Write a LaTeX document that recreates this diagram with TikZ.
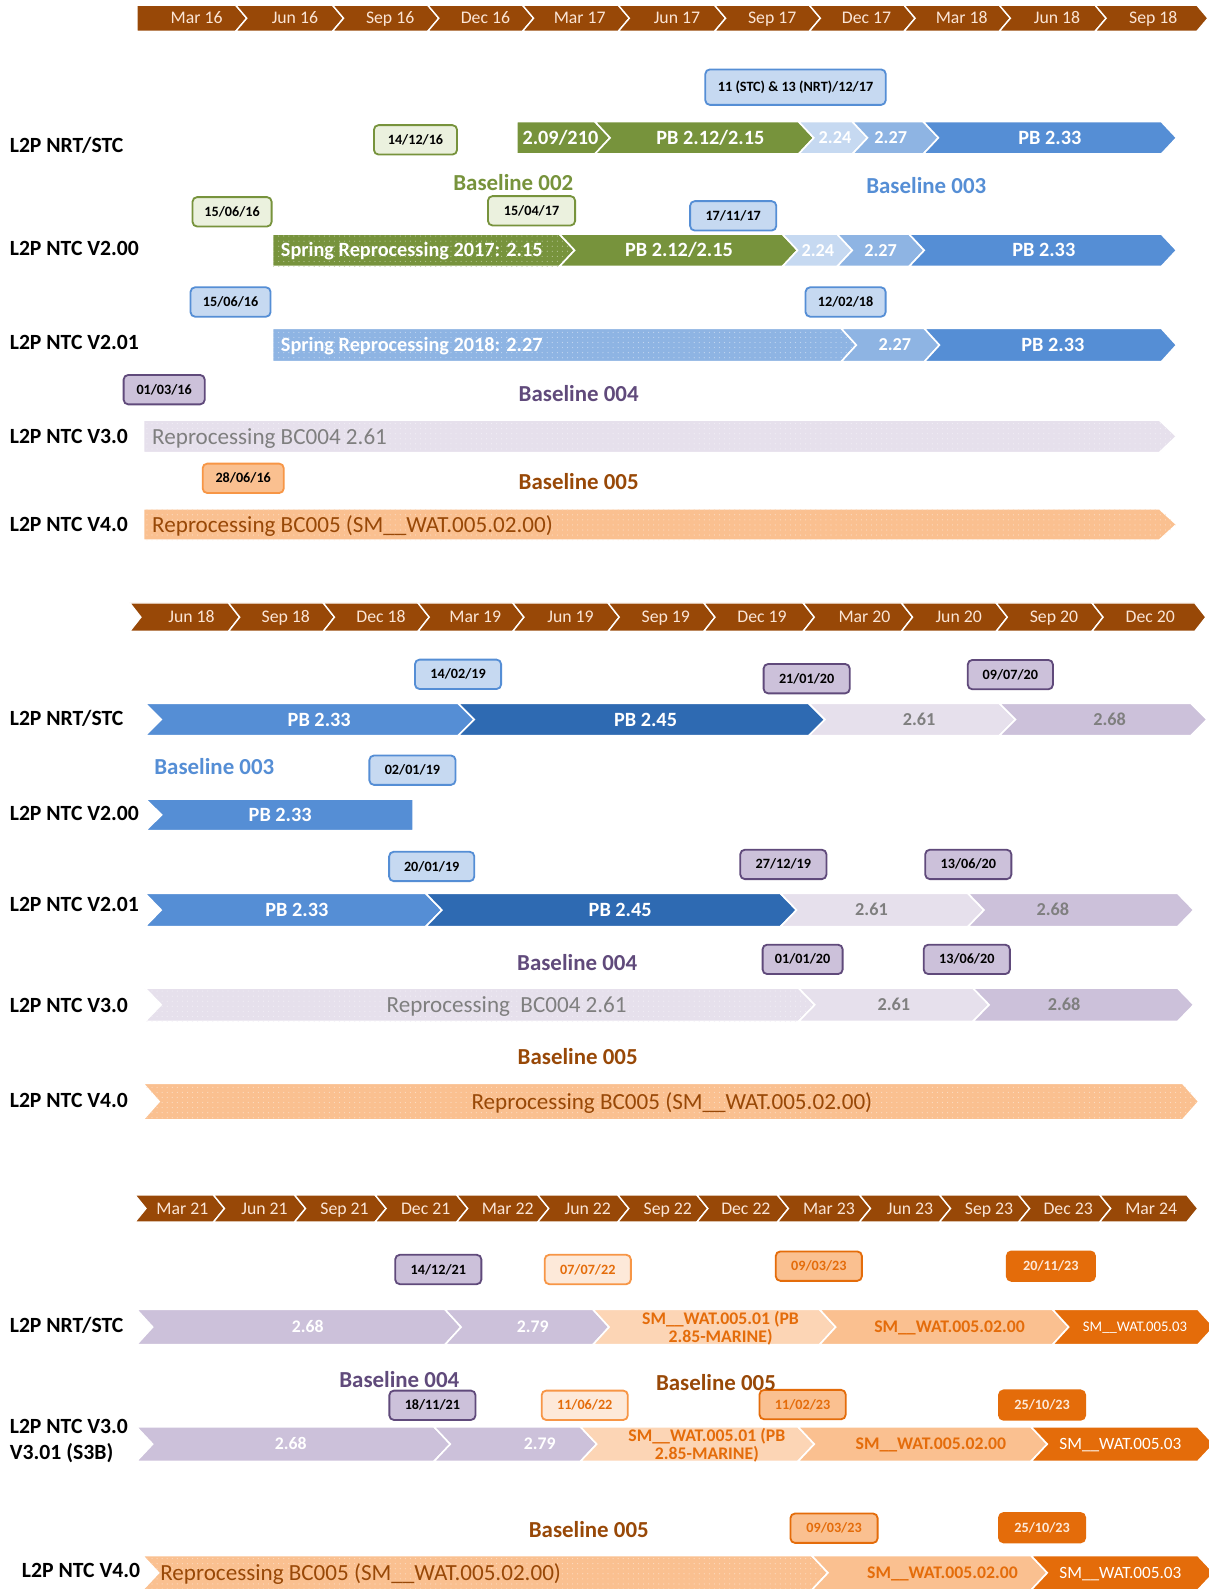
\documentclass[tikz,border=0pt]{standalone}
\usepackage{fontspec}
\setmainfont{Carlito}
\usetikzlibrary{patterns.meta}
\definecolor{tlbrown}{HTML}{984807}
\definecolor{tlcream}{HTML}{FBE5D6}
\definecolor{gdark}{HTML}{77933C}
\definecolor{glight}{HTML}{EBF1DE}
\definecolor{bmid}{HTML}{558ED5}
\definecolor{bsoft}{HTML}{8EB4E3}
\definecolor{blight}{HTML}{C6D9F1}
\definecolor{bdark}{HTML}{2E6AB2}
\definecolor{pdark}{HTML}{604A7B}
\definecolor{pmid}{HTML}{CCC1DA}
\definecolor{plight}{HTML}{E6E0EC}
\definecolor{omid}{HTML}{FAC090}
\definecolor{olight}{HTML}{FCD5B5}
\definecolor{opale}{HTML}{FDE9D9}
\definecolor{odark}{HTML}{E46C0A}
\definecolor{oborder}{HTML}{F79646}
\definecolor{obrown}{HTML}{984807}
\definecolor{gtext}{HTML}{7F7F7F}
% #1 style, #2 xL, #3 xR, #4 ytop, #5 ybot, #6 notch depth, #7 tip depth
\newcommand\chev[7]{\path[#1] (#2,#4) -- (#3,#4) -- ({#3+#7},{(#4+#5)/2}) -- (#3,#5) -- (#2,#5) -- ({#2+#6},{(#4+#5)/2}) -- cycle;}
\tikzset{
 txt/.style={inner sep=0pt, text height=#1, text depth=0pt},
 tlseg/.style={fill=tlbrown, draw=white, line width=1.4pt},
 tllab/.style={txt=11.3pt, text=tlcream, font=\fontsize{17.5}{20}\selectfont},
 rowlab/.style={txt=13.8pt, anchor=west, font=\bfseries\fontsize{21.4}{24}\selectfont},
 basel/.style={txt=14.6pt, font=\bfseries\fontsize{22.6}{26}\selectfont},
 dbox/.style={rounded corners=4.5pt, line width=1.8pt, minimum height=29pt, text height=9pt, text depth=0pt, inner sep=0pt, font=\bfseries\fontsize{14}{16}\selectfont},
 dgreen/.style={dbox, fill=glight, draw=gdark},
 dblue/.style={dbox, fill=blight, draw=bmid},
 dpurple/.style={dbox, fill=pmid, draw=pdark},
 dorange/.style={dbox, fill=omid, draw=oborder},
 dopale/.style={dbox, fill=opale, draw=oborder, text=odark},
 domid/.style={dbox, fill=omid, draw=odark, text=odark},
 dodark/.style={dbox, fill=odark, draw=odark, text=opale},
 sg/.style={fill=#1, draw=white, line width=1.6pt},
 sgd/.style={fill=#1, draw=white, line width=1.6pt, postaction={pattern={Dots[distance=5pt,radius=0.6pt]}, pattern color=white!45!#1}},
 wb/.style={txt=12.9pt, text=white, font=\bfseries\fontsize{20}{24}\selectfont},
 ws/.style={txt=11.6pt, text=white, font=\bfseries\fontsize{18}{22}\selectfont},
 wsm/.style={txt=11.3pt, text=white, font=\bfseries\fontsize{17.5}{20}\selectfont},
 gb/.style={txt=11.6pt, text=gtext, font=\bfseries\fontsize{18}{22}\selectfont},
 reg/.style={txt=14.7pt, font=\fontsize{22.8}{26}\selectfont},
 ob/.style={txt=11.3pt, text=odark, font=\bfseries\fontsize{17.5}{19}\selectfont},
 ob2/.style={inner sep=0pt, align=center, text=odark, font=\bfseries\fontsize{17.5}{18}\selectfont},
 wr/.style={txt=10.95pt, text=white, font=\fontsize{17}{20}\selectfont},
 wrs/.style={txt=9.3pt, text=white, font=\fontsize{14.5}{17}\selectfont},
}
\begin{document}
\begin{tikzpicture}[x=1pt,y=-1pt]
\useasboundingbox (0,0) rectangle (1193,1568);
\fill[white] (0,0) rectangle (1193,1568);
\clip (0,0) rectangle (1193,1568);

%================ SECTION 1 =================
\foreach \nn/\xl/\xr/\lx/\lab [count=\i] in {0/135/232.5/194/Mar 16, 11/232.5/328/291/Jun 16, 11/328/422/385/Sep 16, 11/422/515.5/479/Dec 16, 11/515.5/610/572/Mar 17, 11/610/705/668/Jun 17, 11/705/798.5/762/Sep 17, 11/798.5/892/855/Dec 17, 11/892/986/949/Mar 18, 11/986/1080.5/1043/Jun 18, 11/1080.5/1181/1138/Sep 18}{
  \chev{tlseg}{\xl}{\xr}{5}{31}{\nn}{11}
  \node[tllab] (tA\i) at (\lx,18) {\lab};
}

\node[rowlab] (r1a) at (9.5,144) {L2P NRT/STC};
\node[rowlab] (r1b) at (9.5,245) {L2P NTC V2.00};
\node[rowlab] (r1c) at (9.5,338) {L2P NTC V2.01};
\node[rowlab] (r1d) at (9.5,431) {L2P NTC V3.0};
\node[rowlab] (r1e) at (9.5,518) {L2P NTC V4.0};

% NRT/STC
\chev{sg=gdark}{510}{587}{120}{152}{0}{15}
\chev{sg=gdark}{587}{788}{120}{152}{15}{15}
\chev{sg=blight}{788}{841}{120}{152}{15}{15}
\chev{sg=bsoft}{841}{911}{120}{152}{15}{15}
\chev{sg=bmid}{911}{1146}{120}{152}{15}{15}
\node[wb] (s1a) at (553,136) {2.09/210};
\node[wb] (s1b) at (701,136) {PB 2.12/2.15};
\node[ws] (s1c) at (824,136) {2.24};
\node[ws] (s1d) at (879,136) {2.27};
\node[wb] (s1e) at (1036,136) {PB 2.33};

% V2.00
\chev{sgd=gdark}{269}{552}{231}{263}{0}{15}
\chev{sg=gdark}{552}{772}{231}{263}{15}{15}
\chev{sg=blight}{772}{826}{231}{263}{15}{15}
\chev{sg=bsoft}{826}{897}{231}{263}{15}{15}
\chev{sg=bmid}{897}{1146}{231}{263}{15}{15}
\node[wb, anchor=west] (s2a) at (277,247) {Spring Reprocessing 2017: 2.15};
\node[wb] (s2b) at (670,247) {PB 2.12/2.15};
\node[ws] (s2c) at (807,247) {2.24};
\node[ws] (s2d) at (869,247) {2.27};
\node[wb] (s2e) at (1030,247) {PB 2.33};

% V2.01
\chev{sgd=bsoft}{269}{830}{324}{357}{0}{15}
\chev{sg=bsoft}{830}{912}{324}{357}{15}{15}
\chev{sg=bmid}{912}{1146}{324}{357}{15}{15}
\node[wb, anchor=west] (s3a) at (277,340.5) {Spring Reprocessing 2018: 2.27};
\node[ws] (s3b) at (883,340.5) {2.27};
\node[wb] (s3c) at (1039,340.5) {PB 2.33};

% V3.0
\chev{sgd=plight}{141.6}{1144}{414.5}{446.7}{0}{17}
\node[reg, text=gtext, anchor=west] (s4a) at (150,431) {Reprocessing BC004 2.61};

% V4.0
\chev{sgd=omid}{141.6}{1144}{502}{533}{0}{17}
\node[reg, text=obrown, anchor=west] (s5a) at (150,518) {Reprocessing BC005 (SM\_\_WAT.005.02.00)};

% dates & baselines
\node[dgreen, minimum width=82pt] (b1) at (410,138) {14/12/16};
\node[dblue, minimum width=178pt, minimum height=35pt] (b2) at (785,86) {11 (STC) \& 13 (NRT)/12/17};
\node[dgreen, minimum width=78pt] (b3) at (229,209) {15/06/16};
\node[dgreen, minimum width=86pt] (b4) at (524.5,208) {15/04/17};
\node[dblue, minimum width=85pt] (b5) at (723.5,213) {17/11/17};
\node[dblue, minimum width=79pt] (b6) at (227.5,298) {15/06/16};
\node[dblue, minimum width=79pt] (b7) at (834.4,298) {12/02/18};
\node[dpurple, minimum width=80pt] (b8) at (162,384.5) {01/03/16};
\node[dorange, minimum width=80pt] (b9) at (240,472) {28/06/16};
\node[basel, text=gdark] (bl2) at (506.5,181) {Baseline 002};
\node[basel, text=bmid] (bl3) at (914,184) {Baseline 003};
\node[basel, text=pdark] (bl4) at (571,389) {Baseline 004};
\node[basel, text=obrown] (bl5) at (571,476) {Baseline 005};

%================ SECTION 2 =================
\foreach \nn/\xl/\xr/\lx/\lab [count=\i] in {11/128/225.5/189/Jun 18, 11/225.5/319/282/Sep 18, 11/319/412.5/376/Dec 18, 11/412.5/506/469/Mar 19, 11/506/600/563/Jun 19, 11/600/694.5/657/Sep 19, 11/694.5/792.5/752/Dec 19, 11/792.5/889.5/853/Mar 20, 11/889.5/983/946/Jun 20, 11/983/1077.5/1040/Sep 20, 11/1077.5/1179/1135/Dec 20}{
  \chev{tlseg}{\xl}{\xr}{595}{623}{\nn}{11}
  \node[tllab] (tB\i) at (\lx,609) {\lab};
}

\node[rowlab] (r2a) at (9.5,709) {L2P NRT/STC};
\node[rowlab] (r2b) at (9.5,802.6) {L2P NTC V2.00};
\node[rowlab] (r2c) at (9.5,893) {L2P NTC V2.01};
\node[rowlab] (r2d) at (9.5,992) {L2P NTC V3.0};
\node[rowlab] (r2e) at (9.5,1085.5) {L2P NTC V4.0};

% NRT/STC
\chev{sg=bmid}{143}{452}{694}{726}{16}{16}
\chev{sg=bdark}{452}{798}{694}{726}{16}{16}
\chev{sg=plight}{798}{986}{694}{726}{16}{16}
\chev{sg=pmid}{986}{1175}{694}{726}{16}{16}
\node[wb] (u1a) at (315,710) {PB 2.33};
\node[wb] (u1b) at (637,710) {PB 2.45};
\node[gb] (u1c) at (907,710) {2.61};
\node[gb] (u1d) at (1095,710) {2.68};

% V2.00
\chev{sg=bmid}{143.5}{407.8}{788.5}{819.7}{16}{0}
\node[wb] (u2a) at (276.5,804) {PB 2.33};

% V2.01
\chev{sg=bmid}{143}{420}{881.5}{914.5}{16}{16}
\chev{sg=bdark}{420}{770}{881.5}{914.5}{16}{16}
\chev{sg=plight}{770}{955}{881.5}{914.5}{16}{16}
\chev{sg=pmid}{955}{1162}{881.5}{914.5}{16}{16}
\node[wb] (u3a) at (293,898) {PB 2.33};
\node[wb] (u3b) at (612,898) {PB 2.45};
\node[gb] (u3c) at (860,898) {2.61};
\node[gb] (u3d) at (1039,898) {2.68};

% V3.0
\chev{sgd=plight}{143}{788}{975}{1008}{16}{16}
\chev{sg=plight}{788}{960}{975}{1008}{16}{16}
\chev{sg=pmid}{960}{1162}{975}{1008}{16}{16}
\node[reg, text=gtext] (u4a) at (500,991.5) {Reprocessing~ BC004 2.61};
\node[gb] (u4b) at (882,991.5) {2.61};
\node[gb] (u4c) at (1050,991.5) {2.68};

% V4.0
\chev{sgd=omid}{141}{1167}{1069}{1105}{16}{16}
\node[reg, text=obrown] (u5a) at (663,1087) {Reprocessing BC005 (SM\_\_WAT.005.02.00)};

% dates & baselines
\node[dblue, minimum width=85pt] (c1) at (452,665.4) {14/02/19};
\node[dpurple, minimum width=85pt] (c2) at (796,669.7) {21/01/20};
\node[dpurple, minimum width=84pt] (c3) at (997,665.7) {09/07/20};
\node[dblue, minimum width=85pt] (c4) at (407,760) {02/01/19};
\node[dblue, minimum width=84pt] (c5) at (426,855) {20/01/19};
\node[dpurple, minimum width=85pt] (c6) at (773,853) {27/12/19};
\node[dpurple, minimum width=85pt] (c7) at (955.5,853) {13/06/20};
\node[dpurple, minimum width=79pt] (c8) at (792,946.7) {01/01/20};
\node[dpurple, minimum width=85pt] (c9) at (954,946.7) {13/06/20};
\node[basel, text=bmid] (cl3) at (211.5,756.5) {Baseline 003};
\node[basel, text=pdark] (cl4) at (569.5,950) {Baseline 004};
\node[basel, text=obrown] (cl5) at (570,1043.3) {Baseline 005};

%================ SECTION 3 =================
\foreach \nn/\xl/\xr/\lx/\lab [count=\i] in {11/133/210.5/180/Mar 21, 11/210.5/290.5/261/Jun 21, 11/290.5/370/340/Sep 21, 11/370/450.5/420/Dec 21, 11/450.5/530.5/501/Mar 22, 11/530.5/609.5/580/Jun 22, 11/609.5/687.5/659/Sep 22, 11/687.5/767/736/Dec 22, 11/767/848/818/Mar 23, 11/848/927/898/Jun 23, 11/927/1005/976/Sep 23, 11/1005/1085/1054/Dec 23, 11/1085/1171/1136/Mar 24}{
  \chev{tlseg}{\xl}{\xr}{1179}{1206}{\nn}{11}
  \node[tllab] (tC\i) at (\lx,1192.5) {\lab};
}

\node[rowlab] (r3a) at (9.5,1307.5) {L2P NRT/STC};
\node[rowlab] (r3b) at (9.5,1407.8) {L2P NTC V3.0};
\node[rowlab] (r3c) at (9.5,1433) {V3.01 (S3B)};
\node[rowlab] (r3d) at (21.5,1549.3) {L2P NTC V4.0};

% NRT/STC
\chev{sg=pmid}{134.6}{439}{1292}{1327}{16}{16}
\chev{sg=pmid}{439}{585}{1292}{1327}{16}{16}
\chev{sg=olight}{585}{808.6}{1292}{1327}{16}{16}
\chev{sg=omid}{808.6}{1038.5}{1292}{1327}{16}{16}
\chev{sg=odark}{1038.5}{1182}{1292}{1327}{16}{16}
\node[wsm] (v1a) at (303.6,1309.5) {2.68};
\node[wsm] (v1b) at (525.6,1309.5) {2.79};
\node[ob2] (v1c) at (711,1311) {SM\_\_WAT.005.01 (PB\\2.85-MARINE)};
\node[ob] (v1d) at (937,1309.5) {SM\_\_WAT.005.02.00};
\node[wrs] (v1e) at (1120,1309.5) {SM\_\_WAT.005.03};

% V3.0 / V3.01
\chev{sg=pmid}{134.6}{428.3}{1408}{1442}{16}{16}
\chev{sg=pmid}{428.3}{572.8}{1408}{1442}{16}{16}
\chev{sg=olight}{572.8}{787.5}{1408}{1442}{16}{16}
\chev{sg=omid}{787.5}{1017.4}{1408}{1442}{16}{16}
\chev{sg=odark}{1017.4}{1182}{1408}{1442}{16}{16}
\node[wsm] (v2a) at (286.8,1425) {2.68};
\node[wsm] (v2b) at (532.6,1425) {2.79};
\node[ob2] (v2c) at (697.5,1426) {SM\_\_WAT.005.01 (PB\\2.85-MARINE)};
\node[ob] (v2d) at (918.6,1425) {SM\_\_WAT.005.02.00};
\node[wr] (v2e) at (1105.6,1425) {SM\_\_WAT.005.03};

% V4.0
\chev{sgd=omid}{140.5}{801}{1535}{1569}{16}{16}
\chev{sg=omid}{801}{1017.4}{1535}{1569}{16}{16}
\chev{sg=odark}{1017.4}{1182}{1535}{1569}{16}{16}
\node[reg, text=obrown, anchor=west] (v3a) at (158,1552) {Reprocessing BC005 (SM\_\_WAT.005.02.00)};
\node[ob] (v3b) at (930,1552) {SM\_\_WAT.005.02.00};
\node[wr] (v3c) at (1105.6,1552) {SM\_\_WAT.005.03};

% dates & baselines
\node[dpurple, minimum width=85pt] (e1) at (432.5,1252.7) {14/12/21};
\node[dopale, minimum width=85pt] (e2) at (580,1252.7) {07/07/22};
\node[domid, minimum width=85pt] (e3) at (808,1249.4) {09/03/23};
\node[dodark, minimum width=87pt] (e4) at (1037,1249.4) {20/11/23};
\node[dpurple, minimum width=85pt] (e5) at (426.7,1386.7) {18/11/21};
\node[dopale, minimum width=85pt] (e6) at (577,1386.7) {11/06/22};
\node[domid, minimum width=85pt] (e7) at (792,1386) {11/02/23};
\node[dodark, minimum width=85pt] (e8) at (1028.3,1386.5) {25/10/23};
\node[domid, minimum width=86pt] (e9) at (823,1508) {09/03/23};
\node[dodark, minimum width=85pt] (e10) at (1028.3,1507.5) {25/10/23};
\node[basel, text=pdark] (el4) at (394,1361.7) {Baseline 004};
\node[basel, text=obrown] (el5) at (706.5,1365) {Baseline 005};
\node[basel, text=obrown] (el6) at (581,1509.8) {Baseline 005};
\end{tikzpicture}
\end{document}
